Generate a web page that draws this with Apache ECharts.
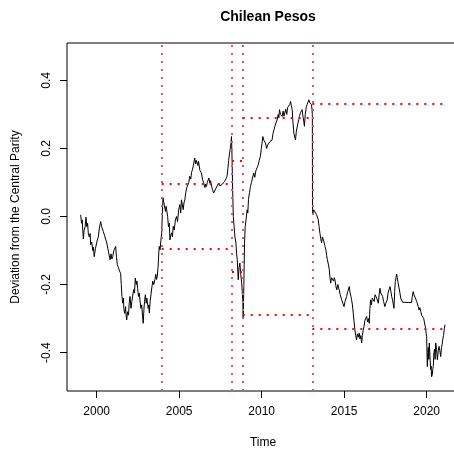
<!DOCTYPE html>
<html>
<head>
<meta charset="utf-8">
<script src="https://cdn.jsdelivr.net/npm/echarts@6/dist/echarts.min.js"></script>
<style>
  html, body { margin: 0; padding: 0; background: #fff; }
  #chart { width: 454px; height: 454px; }
</style>
</head>
<body>
<div id="chart"></div>
<script>
  // deviation series (decimal years)
  const years = [
    1999.03, 1999.08, 1999.12, 1999.19, 1999.24, 1999.30, 1999.35, 1999.40, 1999.45, 1999.49,
    1999.55, 1999.60, 1999.64, 1999.70, 1999.76, 1999.80, 1999.85, 1999.92, 1999.98, 2000.04,
    2000.10, 2000.16, 2000.24, 2000.30, 2000.35, 2000.40, 2000.47, 2000.54, 2000.61, 2000.68,
    2000.74, 2000.81, 2000.87, 2000.92, 2000.97, 2001.04, 2001.10, 2001.15, 2001.20, 2001.25,
    2001.32, 2001.38, 2001.45, 2001.49, 2001.53, 2001.58, 2001.62, 2001.65, 2001.70, 2001.75,
    2001.79, 2001.82, 2001.87, 2001.93, 2001.97, 2002.02, 2002.08, 2002.13, 2002.18, 2002.24,
    2002.29, 2002.34, 2002.40, 2002.44, 2002.48, 2002.53, 2002.58, 2002.62, 2002.68, 2002.73,
    2002.78, 2002.82, 2002.86, 2002.90, 2002.95, 2003.00, 2003.04, 2003.07, 2003.12, 2003.16,
    2003.19, 2003.24, 2003.30, 2003.35, 2003.40, 2003.46, 2003.53, 2003.58, 2003.63, 2003.67,
    2003.72, 2003.76, 2003.79, 2003.84, 2003.89, 2003.94, 2004.00, 2004.02, 2004.07, 2004.12,
    2004.17, 2004.21, 2004.24, 2004.30, 2004.35, 2004.40, 2004.44, 2004.49, 2004.54, 2004.59,
    2004.64, 2004.70, 2004.77, 2004.84, 2004.90, 2004.97, 2005.04, 2005.09, 2005.14, 2005.19,
    2005.24, 2005.29, 2005.34, 2005.40, 2005.46, 2005.52, 2005.58, 2005.64, 2005.70, 2005.75,
    2005.80, 2005.86, 2005.90, 2005.94, 2006.00, 2006.04, 2006.08, 2006.13, 2006.17, 2006.20,
    2006.26, 2006.30, 2006.35, 2006.41, 2006.45, 2006.49, 2006.56, 2006.60, 2006.65, 2006.70,
    2006.75, 2006.80, 2006.86, 2006.90, 2006.95, 2007.01, 2007.05, 2007.09, 2007.15, 2007.20,
    2007.25, 2007.30, 2007.36, 2007.41, 2007.47, 2007.51, 2007.55, 2007.62, 2007.68, 2007.75,
    2007.80, 2007.85, 2007.90, 2007.95, 2008.00, 2008.05, 2008.10, 2008.14, 2008.17, 2008.20,
    2008.24, 2008.28, 2008.33, 2008.38, 2008.44, 2008.48, 2008.52, 2008.55, 2008.58, 2008.63,
    2008.68, 2008.73, 2008.79, 2008.82, 2008.85, 2008.87, 2008.88, 2008.90, 2008.92, 2008.94,
    2008.96, 2009.00, 2009.05, 2009.12, 2009.16, 2009.20, 2009.26, 2009.32, 2009.38, 2009.45,
    2009.52, 2009.58, 2009.65, 2009.72, 2009.78, 2009.85, 2009.92, 2009.98, 2010.02, 2010.07,
    2010.12, 2010.18, 2010.23, 2010.30, 2010.36, 2010.43, 2010.50, 2010.56, 2010.63, 2010.69,
    2010.75, 2010.80, 2010.86, 2010.90, 2010.94, 2011.00, 2011.04, 2011.08, 2011.14, 2011.19,
    2011.24, 2011.30, 2011.35, 2011.40, 2011.46, 2011.52, 2011.57, 2011.61, 2011.66, 2011.71,
    2011.75, 2011.80, 2011.85, 2011.89, 2011.95, 2012.00, 2012.05, 2012.10, 2012.15, 2012.20,
    2012.25, 2012.29, 2012.35, 2012.40, 2012.45, 2012.50, 2012.55, 2012.59, 2012.64, 2012.71,
    2012.76, 2012.81, 2012.86, 2012.91, 2012.96, 2013.02, 2013.05, 2013.07, 2013.08, 2013.10,
    2013.15, 2013.20, 2013.27, 2013.33, 2013.38, 2013.43, 2013.48, 2013.53, 2013.58, 2013.63,
    2013.68, 2013.73, 2013.78, 2013.84, 2013.90, 2013.94, 2013.98, 2014.04, 2014.10, 2014.14,
    2014.18, 2014.24, 2014.30, 2014.36, 2014.40, 2014.44, 2014.50, 2014.55, 2014.62, 2014.66,
    2014.70, 2014.76, 2014.80, 2014.85, 2014.92, 2014.99, 2015.05, 2015.10, 2015.15, 2015.22,
    2015.27, 2015.31, 2015.36, 2015.41, 2015.45, 2015.50, 2015.55, 2015.60, 2015.65, 2015.70,
    2015.75, 2015.80, 2015.86, 2015.91, 2015.96, 2016.01, 2016.06, 2016.10, 2016.15, 2016.20,
    2016.26, 2016.31, 2016.36, 2016.42, 2016.47, 2016.52, 2016.56, 2016.60, 2016.65, 2016.70,
    2016.76, 2016.82, 2016.87, 2016.92, 2016.97, 2017.02, 2017.07, 2017.12, 2017.17, 2017.22,
    2017.28, 2017.33, 2017.39, 2017.43, 2017.47, 2017.52, 2017.57, 2017.61, 2017.66, 2017.72,
    2017.78, 2017.83, 2017.88, 2017.93, 2017.97, 2018.02, 2018.06, 2018.10, 2018.14, 2018.18,
    2018.22, 2018.27, 2018.32, 2018.38, 2018.43, 2018.48, 2018.54, 2018.58, 2018.88, 2019.08,
    2019.13, 2019.18, 2019.23, 2019.29, 2019.35, 2019.40, 2019.45, 2019.49, 2019.54, 2019.59,
    2019.64, 2019.70, 2019.76, 2019.82, 2019.86, 2019.90, 2019.94, 2019.97, 2020.00, 2020.02,
    2020.04, 2020.07, 2020.10, 2020.13, 2020.16, 2020.20, 2020.24, 2020.27, 2020.30, 2020.34,
    2020.37, 2020.40, 2020.44, 2020.48, 2020.51, 2020.55, 2020.60, 2020.65, 2020.70, 2020.75,
    2020.80, 2020.85, 2020.90, 2020.94, 2020.97, 2021.02, 2021.07, 2021.11
  ];
  const deviation = [
    0.005, -0.020, -0.010, -0.066, -0.040, -0.030, -0.002, -0.030, -0.020, -0.049,
    -0.060, -0.050, -0.083, -0.075, -0.100, -0.090, -0.118, -0.095, -0.100, -0.069,
    -0.060, -0.035, -0.015, -0.030, -0.025, -0.044, -0.055, -0.050, -0.078, -0.095,
    -0.090, -0.127, -0.110, -0.125, -0.118, -0.100, -0.105, -0.088, -0.120, -0.142,
    -0.150, -0.160, -0.167, -0.200, -0.235, -0.255, -0.240, -0.274, -0.285, -0.265,
    -0.295, -0.304, -0.280, -0.290, -0.255, -0.235, -0.270, -0.250, -0.245, -0.215,
    -0.225, -0.181, -0.200, -0.190, -0.211, -0.235, -0.225, -0.245, -0.270, -0.260,
    -0.295, -0.314, -0.275, -0.250, -0.230, -0.255, -0.240, -0.245, -0.270, -0.260,
    -0.284, -0.250, -0.225, -0.206, -0.190, -0.200, -0.186, -0.170, -0.185, -0.176,
    -0.150, -0.110, -0.088, -0.098, -0.070, -0.048, 0.034, 0.055, 0.040, 0.045,
    0.015, 0.030, 0.020, 0.000, -0.030, -0.020, -0.069, -0.055, -0.048, -0.060,
    -0.029, -0.040, -0.010, 0.000, -0.015, 0.020, 0.035, 0.010, 0.049, 0.035,
    0.020, 0.040, 0.049, 0.070, 0.085, 0.080, 0.100, 0.118, 0.110, 0.130,
    0.137, 0.150, 0.145, 0.172, 0.155, 0.165, 0.167, 0.150, 0.162, 0.157,
    0.135, 0.140, 0.128, 0.110, 0.115, 0.098, 0.085, 0.095, 0.088, 0.100,
    0.095, 0.113, 0.098, 0.105, 0.093, 0.080, 0.085, 0.069, 0.075, 0.072,
    0.079, 0.090, 0.085, 0.098, 0.090, 0.095, 0.088, 0.095, 0.092, 0.103,
    0.100, 0.112, 0.118, 0.140, 0.165, 0.186, 0.200, 0.215, 0.235, 0.180,
    0.080, 0.000, -0.030, -0.060, -0.078, -0.110, -0.127, -0.160, -0.186, -0.150,
    -0.137, -0.170, -0.196, -0.220, -0.245, -0.280, -0.300, -0.250, -0.200, -0.140,
    -0.080, -0.030, -0.010, 0.020, 0.010, 0.050, 0.070, 0.088, 0.100, 0.095,
    0.128, 0.115, 0.135, 0.143, 0.150, 0.165, 0.176, 0.200, 0.215, 0.235,
    0.225, 0.220, 0.216, 0.200, 0.210, 0.206, 0.220, 0.215, 0.225, 0.245,
    0.255, 0.265, 0.275, 0.270, 0.284, 0.300, 0.290, 0.314, 0.300, 0.305,
    0.294, 0.310, 0.295, 0.304, 0.315, 0.300, 0.320, 0.324, 0.315, 0.330,
    0.338, 0.325, 0.314, 0.280, 0.245, 0.240, 0.225, 0.250, 0.255, 0.275,
    0.285, 0.294, 0.305, 0.300, 0.314, 0.295, 0.280, 0.265, 0.300, 0.324,
    0.330, 0.335, 0.343, 0.335, 0.340, 0.329, 0.314, 0.300, 0.020, 0.010,
    0.020, 0.018, 0.015, 0.005, 0.000, -0.010, -0.030, -0.049, -0.065, -0.078,
    -0.060, -0.059, -0.075, -0.088, -0.100, -0.115, -0.127, -0.140, -0.157, -0.180,
    -0.196, -0.180, -0.176, -0.190, -0.180, -0.186, -0.205, -0.216, -0.200, -0.210,
    -0.216, -0.230, -0.225, -0.245, -0.255, -0.265, -0.250, -0.245, -0.235, -0.220,
    -0.215, -0.206, -0.225, -0.235, -0.245, -0.260, -0.284, -0.310, -0.333, -0.350,
    -0.363, -0.345, -0.355, -0.343, -0.360, -0.350, -0.372, -0.350, -0.335, -0.324,
    -0.305, -0.300, -0.294, -0.310, -0.300, -0.314, -0.270, -0.245, -0.260, -0.240,
    -0.235, -0.250, -0.230, -0.225, -0.240, -0.235, -0.255, -0.230, -0.211, -0.225,
    -0.220, -0.235, -0.250, -0.245, -0.265, -0.255, -0.250, -0.245, -0.225, -0.215,
    -0.206, -0.220, -0.235, -0.245, -0.250, -0.270, -0.220, -0.191, -0.180, -0.169,
    -0.180, -0.195, -0.200, -0.225, -0.240, -0.245, -0.252, -0.253, -0.253, -0.253,
    -0.235, -0.221, -0.230, -0.225, -0.235, -0.250, -0.245, -0.265, -0.275, -0.268,
    -0.279, -0.290, -0.289, -0.300, -0.310, -0.314, -0.330, -0.345, -0.353, -0.400,
    -0.441, -0.400, -0.385, -0.420, -0.372, -0.410, -0.450, -0.440, -0.471, -0.465,
    -0.450, -0.441, -0.400, -0.390, -0.420, -0.372, -0.390, -0.421, -0.395, -0.382,
    -0.395, -0.412, -0.385, -0.375, -0.363, -0.350, -0.330, -0.318
  ];

  // structural breaks and the +/- band of each regime
  const breakYears = [2003.94, 2008.2, 2008.85, 2013.07];
  const regimeEnd = 2021.05;
  const bandLevels = [0.095, 0.163, 0.29, 0.33];

  const xTicks = [2000, 2005, 2010, 2015, 2020];
  const yTicks = [-0.4, -0.2, 0.0, 0.2, 0.4];

  const chart = echarts.init(document.getElementById('chart'), null, { renderer: 'canvas' });

  const bandSegments = [];
  bandLevels.forEach((lvl, i) => {
    const x0 = breakYears[i];
    const x1 = i + 1 < breakYears.length ? breakYears[i + 1] : regimeEnd;
    bandSegments.push([{ coord: [x0, lvl] }, { coord: [x1, lvl] }]);
    bandSegments.push([{ coord: [x0, -lvl] }, { coord: [x1, -lvl] }]);
  });

  const font = 'Liberation Sans, Arial, sans-serif';

  const option = {
    animation: false,
    title: {
      text: 'Chilean Pesos',
      left: 263,
      top: 5,
      textAlign: 'center',
      textStyle: { fontFamily: font, fontSize: 14, fontWeight: 'bold', color: '#000' },
    },
    grid: {
      left: 67,
      top: 43,
      width: 392,
      height: 348,
      outerBoundsMode: 'none',
      show: true,
      borderColor: '#000',
      borderWidth: 1,
      backgroundColor: 'transparent',
    },
    xAxis: {
      type: 'value',
      min: 1998.2,
      max: 2021.96,
      name: 'Time',
      nameLocation: 'middle',
      nameGap: 46,
      nameTextStyle: { fontFamily: font, fontSize: 12, color: '#000' },
      axisLine: { show: false, onZero: false },
      splitLine: { show: false },
      axisTick: {
        show: true,
        inside: false,
        length: 7,
        customValues: xTicks,
        lineStyle: { color: '#000', width: 1 },
      },
      axisLabel: {
        customValues: xTicks,
        margin: 15,
        fontFamily: font,
        fontSize: 12,
        color: '#000',
        formatter: (v) => String(v),
      },
    },
    yAxis: {
      type: 'value',
      min: -0.513,
      max: 0.51,
      name: 'Deviation from the Central Parity',
      nameLocation: 'middle',
      nameGap: 45,
      nameTextStyle: { fontFamily: font, fontSize: 12, color: '#000' },
      axisLine: { show: false, onZero: false },
      splitLine: { show: false },
      axisTick: {
        show: true,
        inside: false,
        length: 7,
        customValues: yTicks,
        lineStyle: { color: '#000', width: 1 },
      },
      axisLabel: {
        customValues: yTicks,
        rotate: 90,
        margin: 14,
        fontFamily: font,
        fontSize: 12,
        color: '#000',
        formatter: (v) => v.toFixed(1),
      },
    },
    series: [
      {
        name: 'deviation',
        type: 'line',
        data: years.map((y, i) => [y, deviation[i]]),
        showSymbol: false,
        lineStyle: { color: '#000', width: 1 },
        clip: true,
        z: 3,
        markLine: {
          silent: true,
          symbol: 'none',
          label: { show: false },
          lineStyle: { color: '#DF536B', width: 2, type: [2, 6] },
          data: breakYears.map((x) => ({ xAxis: x })),
        },
      },
      {
        name: 'bands',
        type: 'line',
        data: [],
        z: 4,
        markLine: {
          silent: true,
          symbol: 'none',
          label: { show: false },
          lineStyle: { color: '#FF0000', width: 2, type: [2, 6] },
          data: bandSegments,
        },
      },
    ],
  };

  chart.setOption(option);
</script>
</body>
</html>
